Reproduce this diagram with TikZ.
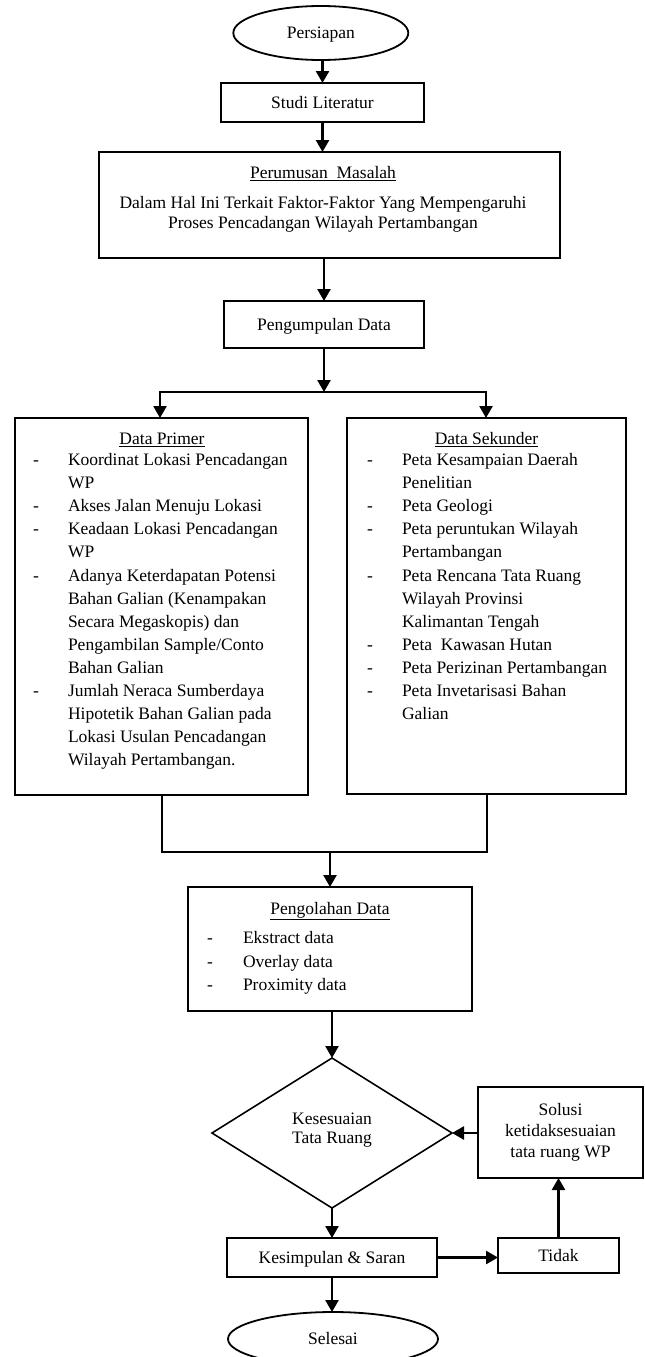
\documentclass[tikz,border=0pt]{standalone}
\usepackage{fontspec}
\setmainfont{Liberation Serif}
\usetikzlibrary{shapes.geometric,arrows.meta,calc}
\begin{document}
\begin{tikzpicture}[x=1pt,y=-1pt,
  every node/.style={font=\fontsize{17.5}{23.1}\selectfont, inner sep=0pt, outer sep=0pt},
  box/.style={draw, line width=1.8pt, rectangle},
  oval/.style={draw, line width=1.8pt, ellipse},
  txt/.style={text height=13pt, text depth=2pt},
  arr/.style={line width=2.5pt, -{Triangle[width=13pt,length=12pt]}},
  conn/.style={line width=2pt},
]
\useasboundingbox (0,0) rectangle (645,1357);

% top chain
\node[oval, minimum width=175pt, minimum height=54pt, txt] (persiapan) at (320.8,33) {Persiapan};
\node[box, minimum width=203pt, minimum height=39pt, txt] (studi) at (322.5,102.5) {Studi Literatur};
\node[box, minimum width=461pt, minimum height=106pt] (perumusan) at (329.5,205) {};
\node[txt] (perT) at (323,173) {\underline{Perumusan\ \ Masalah}};
\node[align=center, font=\fontsize{17.5}{20}\selectfont] (perL) at (323,214)
  {Dalam Hal Ini Terkait Faktor-Faktor Yang Mempengaruhi\\Proses Pencadangan Wilayah Pertambangan};
\node[box, minimum width=200pt, minimum height=47pt, txt] (kumpul) at (324,324.5) {Pengumpulan Data};

\coordinate (sc) at (324,392);
\coordinate (sl) at (160,392);
\coordinate (sr) at (486,392);

% data boxes
\node[box, minimum width=293pt, minimum height=377pt] (primer) at (161.5,606.5) {};
\node[box, minimum width=279pt, minimum height=376pt] (sekunder) at (486.5,606) {};
\node[txt] (primerT) at (162,439) {\underline{Data Primer}};
\node[txt] (sekT) at (486.5,439) {\underline{Data Sekunder}};

\foreach \t [count=\i from 0] in {{Koordinat Lokasi Pencadangan},{WP},{Akses Jalan Menuju Lokasi},{Keadaan Lokasi Pencadangan},{WP},{Adanya Keterdapatan Potensi},{Bahan Galian (Kenampakan},{Secara Megaskopis) dan},{Pengambilan Sample/Conto},{Bahan Galian},{Jumlah Neraca Sumberdaya},{Hipotetik Bahan Galian pada},{Lokasi Usulan Pencadangan},{Wilayah Pertambangan.}}
  \node[txt, anchor=west] (pl\i) at (68,{460+23.1*\i}) {\t};
\foreach \i in {0,2,3,5,10}
  \node[txt, anchor=west] (pd\i) at (33,{460+23.1*\i}) {-};

\foreach \t [count=\i from 0] in {{Peta Kesampaian Daerah},{Penelitian},{Peta Geologi},{Peta peruntukan Wilayah},{Pertambangan},{Peta Rencana Tata Ruang},{Wilayah Provinsi},{Kalimantan Tengah},{Peta\ \ Kawasan Hutan},{Peta Perizinan Pertambangan},{Peta Invetarisasi Bahan},{Galian}}
  \node[txt, anchor=west] (sl\i) at (402,{460+23.1*\i}) {\t};
\foreach \i in {0,2,3,5,8,9,10}
  \node[txt, anchor=west] (sd\i) at (367,{460+23.1*\i}) {-};

\coordinate (mj) at (330,852);

% processing
\node[box, minimum width=284pt, minimum height=124pt] (olah) at (330,949) {};
\node[txt] (olahT) at (330,909) {\underline{Pengolahan Data}};
\foreach \t [count=\i from 0] in {{Ekstract data},{Overlay data},{Proximity data}} {
  \node[txt, anchor=west] (ol\i) at (243,{938+23.5*\i}) {\t};
  \node[txt, anchor=west] (od\i) at (207,{938+23.5*\i}) {-};
}

% decision
\node[draw, line width=1.6pt, diamond, minimum width=240pt, minimum height=150pt] (dia) at (332,1133) {};
\node[align=center, font=\fontsize{17.5}{19.5}\selectfont] (diaT) at (332,1130) {Kesesuaian\\Tata Ruang};
\node[box, minimum width=165pt, minimum height=91pt, align=center, font=\fontsize{17.5}{21}\selectfont] (solusi) at (560.5,1132.5) {Solusi\\ketidaksesuaian\\tata ruang WP};
\node[box, minimum width=210pt, minimum height=39pt, txt] (kes) at (332,1257.5) {Kesimpulan \& Saran};
\node[box, minimum width=121pt, minimum height=35pt, txt] (tidak) at (558.5,1255.5) {Tidak};
\node[oval, minimum width=210pt, minimum height=54pt, txt] (selesai) at (333,1339) {Selesai};

% connectors
\draw[arr] (studi.north |- persiapan.south) -- (studi.north);
\draw[arr] (studi.south) -- (studi.south |- perumusan.north);
\draw[arr] (kumpul.north |- perumusan.south) -- (kumpul.north);
\draw[arr] (sc) -| (sl |- primer.north);
\draw[arr] (sc) -| (sr |- sekunder.north);
\draw[arr] (kumpul.south) -- (sc);
\draw[conn] (primer.south) |- (mj) -| (sekunder.south);
\draw[arr] (mj) -- (olah.north);
\draw[arr] (dia.north |- olah.south) -- (dia.north);
\draw[arr] (solusi.west |- dia.east) -- (dia.east);
\draw[arr] (dia.south) -- (kes.north);
\draw[arr] (kes.east) -- (kes.east -| tidak.west);
\draw[arr] (tidak.north) -- (tidak.north |- solusi.south);
\draw[arr] (kes.south) -- (kes.south |- selesai.north);
\end{tikzpicture}
\end{document}
